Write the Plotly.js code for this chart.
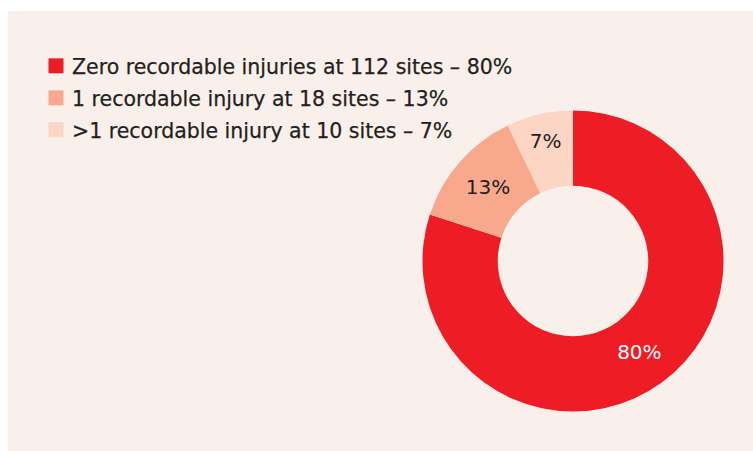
<!DOCTYPE html>
<html>
<head>
<meta charset="utf-8">
<script src="https://cdn.plot.ly/plotly-3.0.1.min.js"></script>
<style>
  html, body { margin: 0; padding: 0; background: #ffffff; width: 753px; height: 451px; overflow: hidden; }
  #chart { position: absolute; left: 8px; top: 11px; width: 745px; height: 440px; }
  .legend .legendpoints path { transform: translate(24px, 0px) scale(1.25); }
  .legend .legendtext { stroke: #231F20; stroke-width: 0.25px; }
</style>
</head>
<body>
<div id="chart"></div>
<script>
const categories = [
  "Zero recordable injuries at 112 sites – 80%",
  "1 recordable injury at 18 sites – 13%",
  ">1 recordable injury at 10 sites – 7%"
];
const siteCounts = [112, 18, 10];
const sliceColors = ["#EE1C25", "#F8A98D", "#FDD5C4"];
const textColors = ["#FFFFFF", "#231F20", "#231F20"];

const W = 745, H = 440;
const cx = 565, cy = 250, R = 150.5;
const FONT = "'DejaVu Sans', sans-serif";
const ROW_GAP = 32;

const trace = {
  type: "pie",
  labels: categories,
  values: siteCounts,
  hole: 0.5,
  sort: false,
  direction: "clockwise",
  rotation: 0,
  marker: { colors: sliceColors, line: { width: 0 } },
  texttemplate: "%{percent:.0%}",
  textposition: "inside",
  insidetextorientation: "horizontal",
  textfont: { family: FONT, size: 20, color: textColors },
  hoverinfo: "none",
  domain: {
    x: [(cx - R) / W, (cx + R) / W],
    y: [(H - cy - R) / H, (H - cy + R) / H]
  }
};

const layout = {
  width: W,
  height: H,
  margin: { l: 0, r: 0, t: 0, b: 0 },
  paper_bgcolor: "#FAF0EB",
  plot_bgcolor: "#FAF0EB",
  showlegend: true,
  legend: {
    x: 24 / W,
    xanchor: "left",
    y: 1 - 35 / H,
    yanchor: "top",
    bgcolor: "rgba(0,0,0,0)",
    font: { family: FONT, size: 20.5, color: "#231F20" },
    tracegroupgap: 0,
    itemclick: false,
    itemdoubleclick: false
  }
};

Plotly.newPlot("chart", [trace], layout, { displayModeBar: false, staticPlot: true }).then(function (gd) {
  const items = gd.querySelectorAll(".legend .traces");
  let y0 = null;
  items.forEach(function (el, i) {
    const m = /translate\(\s*([-\d.]+)[ ,]+([-\d.]+)\s*\)/.exec(el.getAttribute("transform") || "");
    const x = m ? parseFloat(m[1]) : 0;
    const y = m ? parseFloat(m[2]) : 0;
    if (y0 === null) y0 = y;
    el.setAttribute("transform", "translate(" + x + "," + (y0 + i * ROW_GAP) + ")");
  });
});
</script>
</body>
</html>
